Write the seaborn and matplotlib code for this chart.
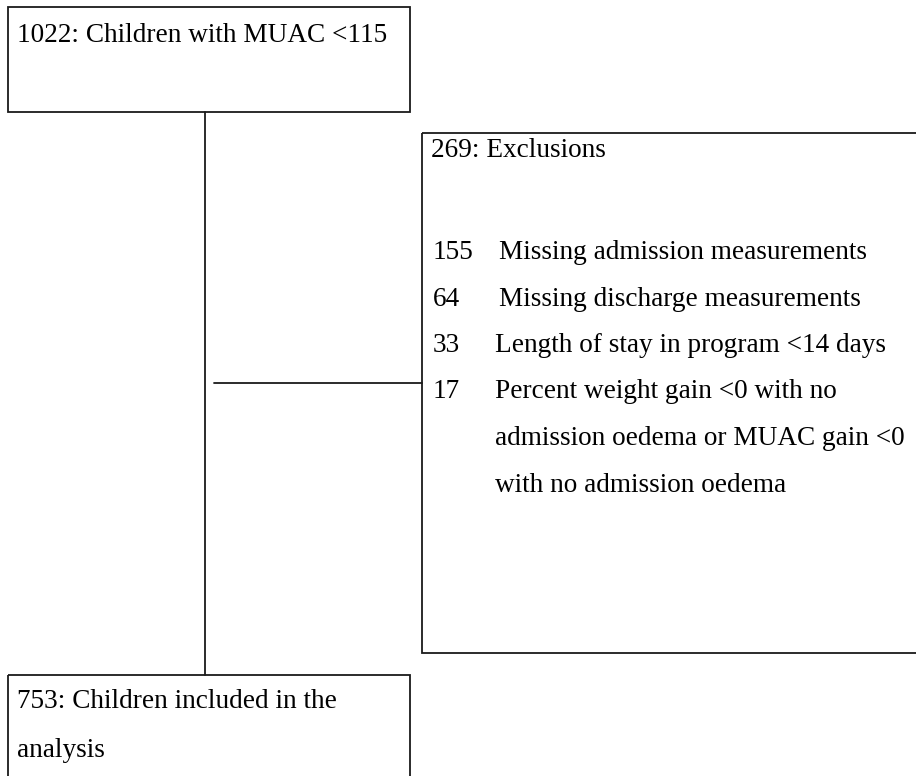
import matplotlib
matplotlib.use("Agg")
import matplotlib.pyplot as plt
from matplotlib.patches import Rectangle
import pandas as pd
import seaborn as sns

# Flowchart counts and labels
TOTAL_N = 1022
TOTAL_LABEL = "Children with MUAC <115"
EXCLUDED_N = 269
EXCLUDED_LABEL = "Exclusions"
REASON_COUNTS = ["155", "64", "33", "17"]
REASON_LINES = [
    ["Missing admission measurements"],
    ["Missing discharge measurements"],
    ["Length of stay in program <14 days"],
    ["Percent weight gain <0 with no",
     "admission oedema or MUAC gain <0",
     "with no admission oedema"],
]
INCLUDED_N = 753
INCLUDED_LINES = ["Children included in the", "analysis"]

# Layout in image pixels (origin top-left)
W, H = 916, 776
BOXES = {
    "top": (8, 7, 402, 105),
    "excl": (422, 133, 510, 520),
    "bottom": (8, 675, 402, 120),
}
TRUNK_X = 205
BRANCH_Y = 383
FONT_PT = 19.6
LINE_GAP = 46.5
EDGE = "#1a1a1a"

sns.set_theme(style="white")
plt.rcParams["font.family"] = ["Liberation Serif", "DejaVu Serif"]

fig = plt.figure(figsize=(W / 100, H / 100), dpi=100)
ax = fig.add_axes([0, 0, 1, 1])
ax.set_xlim(0, W)
ax.set_ylim(H, 0)
ax.axis("off")

for x, y, w, h in BOXES.values():
    ax.add_patch(Rectangle((x, y), w, h, fill=False, edgecolor=EDGE, linewidth=1.3))

# connectors
top = BOXES["top"]
bot = BOXES["bottom"]
excl = BOXES["excl"]
links = pd.DataFrame({
    "x": [TRUNK_X, TRUNK_X, 214, excl[0]],
    "y": [top[1] + top[3], bot[1], BRANCH_Y, BRANCH_Y],
    "seg": ["trunk", "trunk", "branch", "branch"],
})
sns.lineplot(data=links, x="x", y="y", units="seg", estimator=None,
             sort=False, color=EDGE, linewidth=1.3, ax=ax)

txt = dict(fontsize=FONT_PT, color="black", va="baseline", ha="left")

ax.text(17, 42, f"{TOTAL_N}: {TOTAL_LABEL}", **txt)
ax.text(431, 157, f"{EXCLUDED_N}: {EXCLUDED_LABEL}", **txt)

text_x = [499, 499, 495, 495]
base = 259
row = 0
for count, lines, tx in zip(REASON_COUNTS, REASON_LINES, text_x):
    ax.text(433, base + row * LINE_GAP, count, **txt)
    for line in lines:
        ax.text(tx, base + row * LINE_GAP, line, **txt)
        row += 1

for i, line in enumerate(INCLUDED_LINES):
    label = f"{INCLUDED_N}: {line}" if i == 0 else line
    ax.text(17, 708 + i * 49, label, **txt)

fig.savefig("out.png", dpi=100, facecolor="white")
